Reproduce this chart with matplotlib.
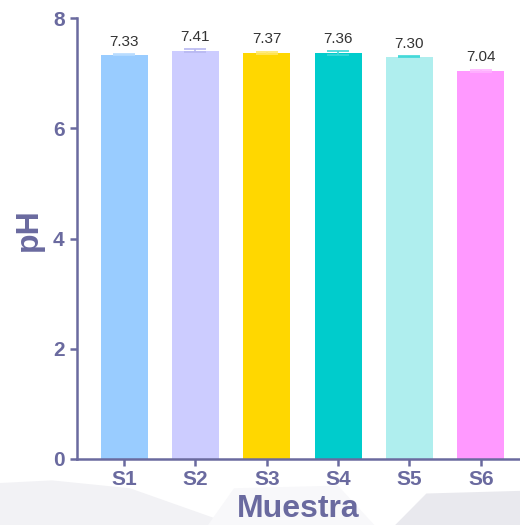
import matplotlib
matplotlib.use("Agg")
import matplotlib.pyplot as plt
from matplotlib.patches import Polygon

# pH por muestra
muestras = ["S1", "S2", "S3", "S4", "S5", "S6"]
ph = [7.33, 7.41, 7.37, 7.36, 7.30, 7.04]
err = [0.01, 0.02, 0.02, 0.04, 0.01, 0.02]
colores = ["#99ccff", "#ccccff", "#ffd700", "#00cccc", "#afeeee", "#ff99ff"]
colores_err = ["#b8dcff", "#b8b8f0", "#ffe766", "#3fd8d8", "#3fd8d8", "#ffb3ff"]
ejes_color = "#6a6a9f"

plt.rcParams["font.family"] = ["Liberation Sans", "DejaVu Sans"]

fig = plt.figure(figsize=(5.2, 5.25), dpi=100)

# sombreado gris claro del fondo
fondo = [
    ([(0, 0), (0, 0.08), (0.1, 0.085), (0.25, 0.07), (0.45, 0.0)], "#f2f2f5"),
    ([(0.4, 0), (0.45, 0.07), (0.65, 0.075), (0.72, 0.0)], "#f8f8fa"),
    ([(0.76, 0), (0.82, 0.06), (1.0, 0.065), (1.0, 0.0)], "#e9e9ee"),
]
for pts, c in fondo:
    fig.patches.append(Polygon(pts, closed=True, transform=fig.transFigure,
                               facecolor=c, edgecolor="none", zorder=-5))

ax = fig.add_axes([77 / 520, 66 / 525, 443 / 520, 441 / 525])
ax.patch.set_alpha(0)

x = range(len(muestras))
ax.bar(x, ph, width=0.66, color=colores, zorder=2)
for i in x:
    ax.errorbar(i, ph[i], yerr=err[i], fmt="none", ecolor=colores_err[i],
                elinewidth=1.2, capsize=8, capthick=1.2, zorder=3)
    ax.text(i, ph[i] + err[i] + 0.1, f"{ph[i]:.2f}", ha="center", va="bottom",
            fontsize=11, color="#333333")

ax.set_xlim(-0.66, 5.55)
ax.set_ylim(0, 8)
ax.set_yticks([0, 2, 4, 6, 8])
ax.set_xticks(list(x))
ax.set_xticklabels(muestras)

for s in ["top", "right"]:
    ax.spines[s].set_visible(False)
for s in ["left", "bottom"]:
    ax.spines[s].set_color(ejes_color)
    ax.spines[s].set_linewidth(1.8)

ax.tick_params(axis="both", colors=ejes_color, length=5, width=1.8,
               labelsize=15)
ax.tick_params(axis="x", pad=3)
ax.tick_params(axis="y", pad=4)
for t in ax.get_xticklabels() + ax.get_yticklabels():
    t.set_fontweight("bold")
    t.set_color(ejes_color)

ax.set_ylabel("pH", fontsize=23, fontweight="bold", color=ejes_color)
ax.yaxis.set_label_coords(-0.075, 0.52)
ax.set_xlabel("Muestra", fontsize=23, fontweight="bold", color=ejes_color)
ax.xaxis.set_label_coords(0.5, -0.08)

fig.savefig("out.png", dpi=100)
